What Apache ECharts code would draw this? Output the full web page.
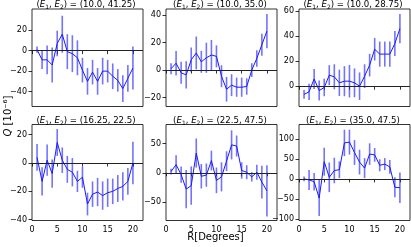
<!DOCTYPE html>
<html><head><meta charset="utf-8">
<script src="https://cdn.jsdelivr.net/npm/echarts@6/dist/echarts.min.js"></script>
<style>html,body{margin:0;padding:0;background:#fff}#c{width:411px;height:247px}</style>
</head><body><div id="c"></div>
<script>
// ---- data ----
const R = [1,2,3,4,5,6,7,8,9,10,11,12,13,14,15,16,17,18,19,20];
const xTicks = [0,5,10,15,20];
const titlePairs = ['10.0, 41.25','10.0, 35.0','10.0, 28.75','16.25, 22.5','22.5, 47.5','35.0, 47.5'];

const q1 = [1,-9,-9,-14,7,16,-1,-3,-7,-19,-30,-21,-30,-20,-20,-25,-29,-37,-27,-17];
const e1 = [3,9,14,17,12.5,18,17,18,17,12,13,12,13,13,11,12.5,11,13,13,21];
const q2 = [1,5,-2,-3.5,7.5,12.5,6,9,11,10,-4.5,-14,-11,-12.5,-12.5,-12,0,8.5,18.5,28.5];
const e2 = [4,9,8,10,9,12,8,11,11,8,8,9,8,7,7,6,5,6,8,12.5];
const q3 = [-6.5,-4.5,5.8,-3.5,-1,8.8,7.5,2.7,4,4,2.7,0,8,16.8,29.5,25.6,25.6,25.6,34,46];
const e3 = [3.5,6.5,8,8,7,8,10,10.5,12,13,11.5,11,9.5,9,9,10,10,10,10,11.7];
const q4 = [4,-13,2,-7.5,14.5,2,-4.5,-6.5,-13,-10,-29,-22,-20.5,-23,-21,-20,-18,-16.5,-13,0];
const e4 = [9.5,10,11,10,9.5,9,9.5,10,7.5,7.5,8,9,10,10,10,9,9.5,10,9.5,15];
const q5 = [2,14,-3,-28,-22,34,-6,-4,21,-13,-7,20,48,46,4,1,-7,1,-16,-31];
const e5 = [5,16,14,33,33,25,21,20,17,22,25,17,25,18,14,12,8,13,28,44];
const q6 = [0,-2.5,-7,-48,43,4,21,23,90,92,66,42,27,62,60,34,37,30,-21,-22];
const e6 = [6,25,22,45,35,37,32,21,33,31,31,31,25,27,17,15,15,17,25,38];

const yTicks1 = [-40,-20,0,20];
const yTicks2 = [-20,0,20,40];
const yTicks3 = [0,20,40,60];
const yTicks4 = [-40,-20,0,20];
const yTicks5 = [-50,0,50];
const yTicks6 = [-100,-50,0,50,100];
const yLims = [[-54.5,40.6],[-26.6,44.6],[-16.2,61.6],[-40.6,27.2],[-82,83],[-104,136]];

const Q = [q1,q2,q3,q4,q5,q6];
const E = [e1,e2,e3,e4,e5,e6];
const YT = [yTicks1,yTicks2,yTicks3,yTicks4,yTicks5,yTicks6];

// ---- layout ----
const FONT = 'DejaVu Sans';
const colLeft = [32, 166, 299];
const gridW = 111;
const rowTop = [9, 124.5];
const rowH = [97.5, 96];

const grids = [], xAxes = [], yAxes = [], series = [], graphics = [];
const fmt = v => String(v).replace('-', '\u2212');

for (let i = 0; i < 6; i++) {
  const r = Math.floor(i / 3), c = i % 3;
  grids.push({left: colLeft[c], top: rowTop[r], width: gridW, height: rowH[r],
    show: true, borderColor: '#000', borderWidth: 0.8, containLabel: false});
  xAxes.push({type: 'value', gridIndex: i, min: 0, max: 22,
    axisLine: {show: false}, splitLine: {show: false},
    axisTick: {show: true, inside: false, length: 3.5, customValues: xTicks, lineStyle: {color: '#000', width: 0.8}},
    axisLabel: {show: r === 1, customValues: xTicks, fontSize: 8, color: '#000', fontFamily: FONT, margin: 5, formatter: fmt}
  });
  yAxes.push({type: 'value', gridIndex: i, min: yLims[i][0], max: yLims[i][1],
    axisLine: {show: false}, splitLine: {show: false},
    axisTick: {show: true, inside: false, length: 3.5, customValues: YT[i], lineStyle: {color: '#000', width: 0.8}},
    axisLabel: {show: true, customValues: YT[i], fontSize: 8, color: '#000', fontFamily: FONT, margin: 5, formatter: fmt}
  });
  const yv = Q[i], ev = E[i];
  series.push({type: 'custom', xAxisIndex: i, yAxisIndex: i, silent: true, z: 2,
    data: R.map((x, k) => [x, yv[k] - ev[k], yv[k] + ev[k]]),
    encode: {x: 0, y: [1, 2]},
    renderItem: (params, api) => {
      const a = api.coord([api.value(0), api.value(1)]);
      const b = api.coord([api.value(0), api.value(2)]);
      return {type: 'line', shape: {x1: a[0], y1: a[1], x2: b[0], y2: b[1]},
        style: {stroke: 'rgba(40,40,255,0.65)', lineWidth: 1.6}};
    }
  });
  series.push({type: 'line', xAxisIndex: i, yAxisIndex: i, silent: true, z: 3,
    data: R.map((x, k) => [x, yv[k]]), showSymbol: false, symbol: 'none',
    lineStyle: {color: '#1a1aff', width: 1},
    markLine: {silent: true, symbol: 'none', label: {show: false},
      lineStyle: {color: '#222', width: 1.2, type: 'solid'}, data: [{yAxis: 0}]}
  });
  const cx = colLeft[c] + gridW / 2 - 1.5;
  const cy = r === 0 ? 5 : 120.5;
  graphics.push({type: 'text', x: cx, y: cy, silent: true,
    style: {text: '({e|E}{s|1}, {e|E}{s|2}) = (' + titlePairs[i] + ')',
      fontSize: 8.6, fontFamily: FONT, fill: '#000',
      align: 'center', verticalAlign: 'middle', textAlign: 'center', textVerticalAlign: 'middle',
      rich: {
        e: {fontStyle: 'italic', fontSize: 8.6, fontFamily: FONT, fill: '#000', lineHeight: 11},
        s: {fontSize: 6, fontFamily: FONT, fill: '#000', verticalAlign: 'bottom', lineHeight: 6}
      }}
  });
}

graphics.push({type: 'text', x: 8, y: 116, rotation: Math.PI / 2, silent: true,
  style: {text: '{q|Q} [10\u207B\u2076]', fontSize: 10, fontFamily: FONT, fill: '#000',
    align: 'center', verticalAlign: 'middle', textAlign: 'center', textVerticalAlign: 'middle',
    rich: {q: {fontStyle: 'italic', fontSize: 10, fontFamily: FONT, fill: '#000'}}}
});
graphics.push({type: 'text', x: 215.5, y: 237.5, silent: true,
  style: {text: 'R[Degrees]', fontSize: 10, fontFamily: FONT, fill: '#000',
    align: 'center', verticalAlign: 'middle', textAlign: 'center', textVerticalAlign: 'middle'}
});

const chart = echarts.init(document.getElementById('c'), null, {renderer: 'canvas'});
chart.setOption({animation: false, backgroundColor: '#fff',
  grid: grids, xAxis: xAxes, yAxis: yAxes, series: series, graphic: graphics});
</script>
</body></html>
